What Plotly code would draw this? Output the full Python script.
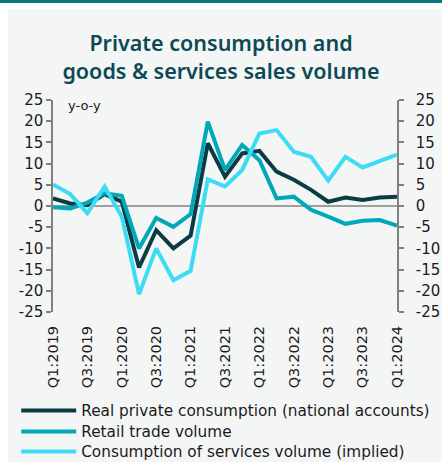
import plotly.graph_objects as go

quarters = [f"Q{q}:{y}" for y in range(2019, 2025) for q in (1, 2, 3, 4)][:21]

private_consumption = [1.8, 0.6, 0.2, 2.8, 1.0, -14.5, -5.7, -10.0, -7.0, 14.8, 6.9, 12.4,
                       13.0, 8.1, 6.2, 3.8, 1.0, 2.0, 1.4, 2.0, 2.2]
retail_trade = [-0.3, -0.6, 0.8, 3.0, 2.4, -10.0, -2.8, -4.9, -1.9, 19.9, 8.5, 14.4,
                10.8, 1.8, 2.2, -0.9, -2.5, -4.2, -3.5, -3.3, -4.6]
services = [5.1, 2.8, -1.7, 4.6, -2.5, -20.8, -10.0, -17.5, -15.3, 6.3, 4.6, 8.5,
            17.1, 17.9, 12.8, 11.6, 6.0, 11.6, 9.1, 10.5, 12.1]

series_names = ["Real private consumption (national accounts)",
                "Retail trade volume",
                "Consumption of services volume (implied)"]
series_colors = ["#0b3c44", "#00a8b8", "#3ddcf4"]

y_ticks = list(range(-25, 30, 5))
y_tick_text = [str(v) for v in y_ticks]
x_tick_labels = quarters[::2]

TEXT_FONT = "DejaVu Sans"
TITLE_FONT = "Noto Sans"
INK = "#1a1a1a"

# one legend box per series so the rows can be spaced tightly
legend_ids = ["legend", "legend2", "legend3"]
legend_tops = [394, 415, 435]

fig = go.Figure()
for name, values, color, lid in zip(series_names,
                                    [private_consumption, retail_trade, services],
                                    series_colors, legend_ids):
    fig.add_trace(go.Scatter(x=quarters, y=values, name=name, mode="lines",
                             line=dict(color=color, width=4), legend=lid))

# invisible trace to carry the mirrored right-hand axis
fig.add_trace(go.Scatter(x=quarters, y=private_consumption, yaxis="y2",
                         mode="lines", line=dict(width=0), showlegend=False,
                         hoverinfo="skip", opacity=0))

axis_common = dict(range=[-25, 25], tickvals=y_ticks, ticktext=y_tick_text,
                   showgrid=False, zeroline=False, showline=True,
                   linecolor="#808080", linewidth=1.5, ticks="outside",
                   ticklen=5, tickcolor="#808080", tickwidth=1.5,
                   automargin=False,
                   tickfont=dict(family=TEXT_FONT, size=15, color=INK))

legend_layout = {
    lid: dict(x=-0.107, xref="paper", y=1 - top / 462, yref="container",
              xanchor="left", yanchor="top", orientation="v",
              bgcolor="rgba(0,0,0,0)",
              font=dict(family=TEXT_FONT, size=15.3, color=INK),
              itemwidth=55)
    for lid, top in zip(legend_ids, legend_tops)
}

fig.update_layout(
    width=442, height=462,
    margin=dict(l=53, r=45, t=100, b=150),
    paper_bgcolor="white",
    plot_bgcolor="rgba(0,0,0,0)",
    font=dict(family=TEXT_FONT),
    title=dict(text="Private consumption and<br>goods & services sales volume",
               x=0.5, xanchor="center", y=0.889, yanchor="top",
               font=dict(family=TITLE_FONT, size=21.5, color="#0d4a54", weight=600)),
    xaxis=dict(type="category", showgrid=False, zeroline=False, showline=False,
               tickvals=x_tick_labels, ticktext=x_tick_labels, tickangle=-90,
               ticks="", automargin=False, ticklabelstandoff=10,
               tickfont=dict(family=TEXT_FONT, size=14.5, color=INK)),
    yaxis=dict(**axis_common),
    yaxis2=dict(**axis_common, overlaying="y", side="right", anchor="x",
                ticklabelstandoff=9),
    showlegend=True,
    **legend_layout,
    shapes=[
        # panel background
        dict(type="rect", xref="paper", yref="paper", layer="below",
             x0=-45 / 344, x1=1 + 45 / 344, y0=-150 / 212, y1=1 + 91 / 212,
             fillcolor="#f4f6f6", line=dict(width=0)),
        # header strip
        dict(type="rect", xref="paper", yref="paper", layer="below",
             x0=-53 / 344, x1=1 + 45 / 344, y0=1 + 97 / 212, y1=1 + 100 / 212,
             fillcolor="#067a82", line=dict(width=0)),
        # zero line
        dict(type="line", xref="paper", yref="y", x0=0, x1=1, y0=0, y1=0,
             line=dict(color="#808080", width=1.5), layer="below"),
    ],
    annotations=[
        dict(text="y-o-y", xref="paper", yref="paper", x=13 / 344, y=0.975,
             xanchor="left", yanchor="middle", showarrow=False,
             font=dict(family=TEXT_FONT, size=13, color=INK)),
    ],
)

fig.write_html("out.html")
